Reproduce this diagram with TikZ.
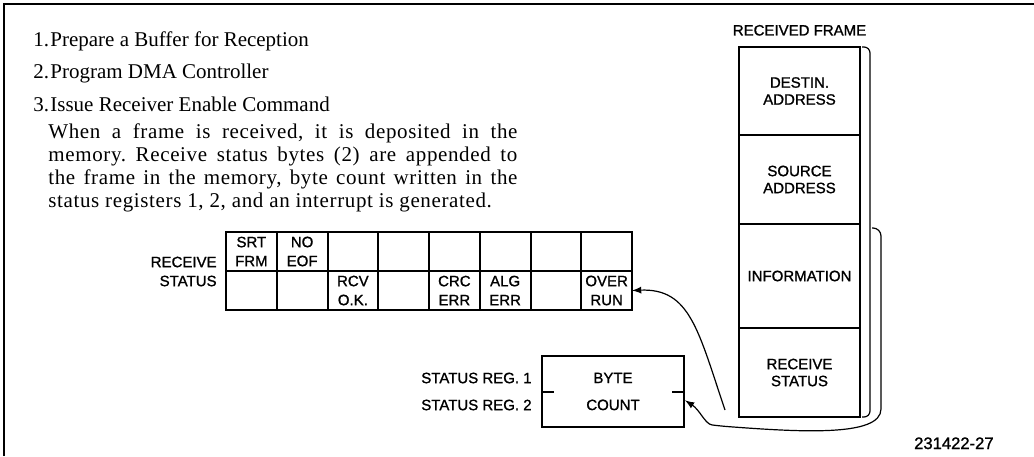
\documentclass[tikz,border=0pt]{standalone}
\usepackage{fontspec}
\setmainfont{Liberation Serif}
\newfontfamily\bodyfont{Liberation Serif}[LetterSpace=3]
\newfontfamily\labelfont{Liberation Sans}[FakeBold=1.2]
\usetikzlibrary{positioning}

\begin{document}
\begin{tikzpicture}[x=0.5pt,y=-0.5pt,>=latex,
                    body/.style={inner sep=0pt, font=\bodyfont\frenchspacing\fontsize{10.5}{11.5}\selectfont},
                    steptext/.style={inner sep=0pt, font=\rmfamily\fontsize{10.5}{11.5}\selectfont},
                    lbl/.style={inner sep=2pt, font=\labelfont\fontsize{7.5}{9.5}\selectfont},
                    cell/.style={draw, line width=1pt, inner sep=0pt, outer sep=0pt,
                                 minimum width=25.375pt, minimum height=19.5pt},
                    field/.style={lbl, draw, line width=1pt, inner sep=0pt, outer sep=0pt,
                                  align=center, minimum width=60.5pt,
                                  font=\labelfont\fontsize{7.5}{8.5}\selectfont},
                    conn/.style={semithick,->}]
  \useasboundingbox (0,0) rectangle (1034,456);
  \draw[line width=1pt] (4,456) -- (4,4) -- (1034,4);

  % steps and text
  \foreach \n/\t in {1/Prepare a Buffer for Reception,
                     2/Program DMA Controller,
                     3/Issue Receiver Enable Command}{
    \node[steptext,anchor=base west] (num\n) at (33,{46+32.5*(\n-1)}) {\n.};
    \node[steptext,anchor=base west] (item\n) at (50,{46+32.5*(\n-1)}) {\t};
  }
  \foreach \l/\j [count=\k] in
      {{When a frame is received, it is deposited in the}/s,
       {memory. Receive status bytes (2) are appended to}/s,
       {the frame in the memory, byte count written in the}/s,
       {status registers 1, 2, and an interrupt is generated.}/l}
    \node[body,anchor=base west] (para\k) at (48,{138+23*(\k-1)})
          {\makebox[234.5pt][\j]{\l}};

  % receive status bytes
  \foreach \r in {1,2}
    \foreach \c in {1,...,8}
      \node[cell] (s\r\c) at ({226+50.75*(\c-0.5)},{232+39*(\r-0.5)}) {};
  \foreach \r/\c/\t in {1/1/{SRT\\FRM}, 1/2/{NO\\EOF}, 2/3/{RCV\\O.K.},
                        2/5/{CRC\\ERR}, 2/6/{ALG\\ERR}, 2/8/{OVER\\RUN}}
    \node[lbl,align=center,inner sep=0pt] (t\r\c) at (s\r\c) {\t};
  \node[lbl,align=right,anchor=east] (rslbl) at (221,271.5) {RECEIVE\\STATUS};

  % byte count
  \node[lbl,draw,line width=1pt,align=center,minimum width=71pt,minimum height=35.5pt,
        font=\labelfont\fontsize{7.5}{13.5}\selectfont] (bc) at (613,391.5) {BYTE\\COUNT};
  \draw[line width=1pt] (bc.west) -- ++(13,0);
  \draw[line width=1pt] (bc.east) -- ++(-13,0);
  \node[lbl,anchor=east] (reg1) at (536,378) {STATUS REG.\ 1};
  \node[lbl,anchor=east] (reg2) at (536,405) {STATUS REG.\ 2};

  % received frame
  \node[field,minimum height=44pt] (dest) at (799.5,91) {DESTIN.\\ADDRESS};
  \node[field,minimum height=44.5pt,below=0pt of dest] (src) {SOURCE\\ADDRESS};
  \node[field,minimum height=52pt,below=0pt of src] (info) {INFORMATION};
  \node[field,minimum height=44.5pt,below=0pt of info] (rstat) {RECEIVE\\STATUS};
  \node[lbl,above=3.5pt of dest] (title) {RECEIVED FRAME};

  \draw[semithick,rounded corners=3pt] (dest.north east) ++(2,0)
        -| ([xshift=5pt]rstat.south east) -- ++(-8,0);
  \draw[conn,rounded corners=4pt] (info.north east) ++(12,4)
        -| ([xshift=10.5pt,yshift=8pt]rstat.south east)
        .. controls +(0,36) and (800,432) .. (720,426)
        .. controls (705,424) and (700,410) .. (bc.-7);
  \coordinate (rsx) at ([xshift=-7pt,yshift=3.5pt]rstat.south west);
  \draw[conn] (rsx) .. controls (698,330) and (690,288) .. (s28.east);

  \node[lbl,inner sep=0pt,anchor=base east,font=\labelfont\fontsize{8.3}{10}\selectfont]
        (fig) at (994,449) {231422-27};
\end{tikzpicture}
\end{document}
